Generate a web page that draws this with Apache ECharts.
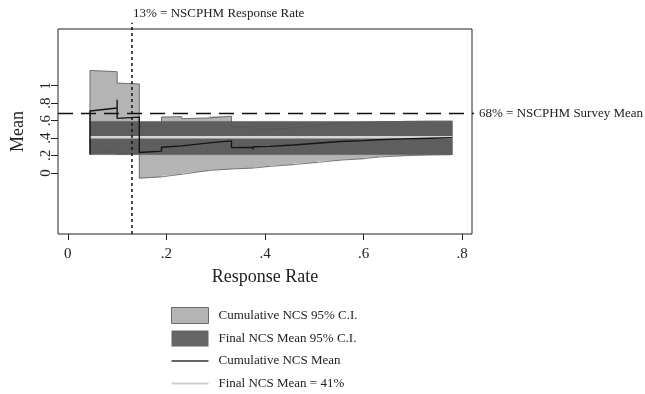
<!DOCTYPE html>
<html>
<head>
<meta charset="utf-8">
<script src="https://cdn.jsdelivr.net/npm/echarts@6/dist/echarts.min.js"></script>
<style>
html,body{margin:0;padding:0;background:#fff;}
#chart{width:645px;height:394px;}
</style>
</head>
<body>
<div id="chart"></div>
<script>
// ---- data ----
const rateBreaks = [0.045, 0.100, 0.145, 0.190, 0.231, 0.287, 0.332, 0.376, 0.410, 0.457, 0.505, 0.552, 0.600, 0.630, 0.681, 0.735, 0.780];
const cumUpperStart = [1.175, 1.030, 0.530, 0.640, 0.622, 0.645, 0.525, 0.490, 0.505, 0.525, 0.560, 0.578, 0.582, 0.588, 0.592, 0.594];
const cumUpperEnd   = [1.160, 1.020, 0.545, 0.645, 0.630, 0.650, 0.525, 0.500, 0.515, 0.545, 0.572, 0.580, 0.585, 0.590, 0.594, 0.594];
const cumLowerStart = [0.215, 0.215, -0.060, -0.030, 0.000, 0.035, 0.050, 0.068, 0.088, 0.112, 0.138, 0.155, 0.176, 0.192, 0.203, 0.208];
const cumLowerEnd   = [0.285, 0.220, -0.045, -0.015, 0.028, 0.045, 0.056, 0.075, 0.095, 0.120, 0.146, 0.163, 0.182, 0.197, 0.207, 0.210];
const cumMean = [
  [0.045,0.21],[0.045,0.71],[0.100,0.745],[0.100,0.84],[0.100,0.625],[0.145,0.64],
  [0.145,0.235],[0.190,0.25],[0.190,0.295],[0.231,0.31],[0.231,0.32],[0.287,0.345],
  [0.287,0.35],[0.332,0.368],[0.332,0.29],[0.376,0.295],[0.376,0.265],[0.376,0.30],
  [0.410,0.305],[0.410,0.31],[0.457,0.32],[0.457,0.325],[0.505,0.34],[0.505,0.345],
  [0.552,0.36],[0.552,0.362],[0.600,0.37],[0.600,0.375],[0.630,0.38],[0.630,0.385],
  [0.681,0.39],[0.681,0.393],[0.735,0.398],[0.735,0.40],[0.780,0.405]
];
const finalRange = [0.045, 0.780];
const finalMean = 0.41;
const finalCILow = 0.21;
const finalCIHigh = 0.59;
const surveyMean = 0.68;
const surveyRate = 0.13;
const xTickValues = [0, 0.2, 0.4, 0.6, 0.8];
const xTickLabels = ['0', '.2', '.4', '.6', '.8'];
const yTickValues = [0, 0.2, 0.4, 0.6, 0.8, 1];
const yTickLabels = ['0', '.2', '.4', '.6', '.8', '1'];
const legendNames = ['Cumulative NCS 95% C.I.', 'Final NCS Mean 95% C.I.', 'Cumulative NCS Mean', 'Final NCS Mean = 41%'];
const surveyMeanLabel = '68% = NSCPHM Survey Mean';
const surveyRateLabel = '13% = NSCPHM Response Rate';

// ---- build series data ----
function segPoints(starts, ends) {
  const pts = [];
  for (let i = 0; i < starts.length; i++) {
    pts.push([rateBreaks[i], starts[i]]);
    pts.push([rateBreaks[i + 1], ends[i]]);
  }
  return pts;
}
const upperPts = segPoints(cumUpperStart, cumUpperEnd);
const lowerPts = segPoints(cumLowerStart, cumLowerEnd);
const upperOutline = [[rateBreaks[0], cumLowerStart[0]]].concat(upperPts);
const cumSegments = cumUpperStart.map((u, i) =>
  [rateBreaks[i], rateBreaks[i + 1], cumLowerStart[i], u, cumLowerEnd[i], cumUpperEnd[i]]);
const finalSegments = [[finalRange[0], finalRange[1], finalCILow, finalCIHigh, finalCILow, finalCIHigh]];

const X_MIN = -0.02, X_MAX = 0.82, Y_MIN = -0.7, Y_MAX = 1.65;
const FONT = 'Liberation Serif';

function bandRenderer(color) {
  return function (params, api) {
    const x0 = api.value(0), x1 = api.value(1);
    const pts = [
      api.coord([x0, api.value(2)]), api.coord([x0, api.value(3)]),
      api.coord([x1, api.value(5)]), api.coord([x1, api.value(4)])
    ];
    return {type: 'polygon', shape: {points: pts}, style: {fill: color, stroke: color, lineWidth: 0.6}};
  };
}
// thin horizontal bar icon whose bounding box spans the full 37x16 key
function lineIcon(th) {
  const a = (8 - th / 2).toFixed(2), b = (8 + th / 2).toFixed(2);
  return 'path://M0,0L0.01,0L0,0.01Z M0,' + a + 'H37V' + b + 'H0Z M37,16L36.99,16L37,15.99Z';
}

const chart = echarts.init(document.getElementById('chart'), null, {renderer: 'canvas'});
const noSym = {showSymbol: false, symbol: 'none'};

chart.setOption({
  animation: false,
  backgroundColor: '#fff',
  title: [{
    text: surveyRateLabel,
    left: 133, top: 7, padding: 0,
    textStyle: {fontFamily: FONT, fontSize: 13, fontWeight: 'normal', color: '#222'}
  }],
  grid: {left: 58, right: 173, top: 29, bottom: 160, show: true, borderColor: '#222', borderWidth: 1, backgroundColor: 'transparent'},
  xAxis: {
    type: 'value', min: X_MIN, max: X_MAX,
    name: 'Response Rate', nameLocation: 'middle', nameGap: 34,
    nameTextStyle: {fontFamily: FONT, fontSize: 18, color: '#222'},
    axisLine: {show: false, onZero: false},
    axisTick: {show: true, length: 6, customValues: xTickValues, lineStyle: {color: '#222', width: 1}},
    axisLabel: {customValues: xTickValues, margin: 13, fontFamily: FONT, fontSize: 15, color: '#222',
      formatter: v => xTickLabels[xTickValues.findIndex(t => Math.abs(t - v) < 1e-9)]},
    splitLine: {show: false}
  },
  yAxis: {
    type: 'value', min: Y_MIN, max: Y_MAX,
    name: 'Mean', nameLocation: 'middle', nameGap: 31, nameRotate: 90,
    nameTextStyle: {fontFamily: FONT, fontSize: 18, color: '#222'},
    axisLine: {show: false, onZero: false},
    axisTick: {show: true, length: 7, customValues: yTickValues, lineStyle: {color: '#222', width: 1}},
    axisLabel: {customValues: yTickValues, rotate: 90, margin: 4, fontFamily: FONT, fontSize: 15, color: '#222',
      formatter: v => yTickLabels[yTickValues.findIndex(t => Math.abs(t - v) < 1e-9)]},
    splitLine: {show: false}
  },
  legend: {
    orient: 'vertical', left: 171, top: 307, padding: 0,
    itemWidth: 37, itemHeight: 16, itemGap: 6.5,
    selectedMode: false,
    textStyle: {fontFamily: FONT, fontSize: 13, color: '#222', padding: [0, 0, 0, 5]},
    data: [
      {name: legendNames[0], icon: 'rect', itemStyle: {color: '#b4b4b4', borderColor: '#6a6a6a', borderWidth: 1}},
      {name: legendNames[1], icon: 'rect', itemStyle: {color: '#666666', borderWidth: 0}},
      {name: legendNames[2], icon: lineIcon(1.6), itemStyle: {color: '#333', borderWidth: 0}},
      {name: legendNames[3], icon: lineIcon(2.2), itemStyle: {color: '#cfcfcf', borderWidth: 0}}
    ]
  },
  series: [
    {name: legendNames[0], type: 'custom', data: cumSegments, renderItem: bandRenderer('#b4b4b4'),
      encode: {x: [0, 1], y: [2, 3, 4, 5]}, color: '#b4b4b4', z: 1, silent: true},
    {name: legendNames[1], type: 'custom', data: finalSegments, renderItem: bandRenderer('#5e5e5e'),
      encode: {x: [0, 1], y: [2, 3, 4, 5]}, color: '#5e5e5e', z: 2, silent: true},
    {name: 'cumUpperOutline', type: 'line', data: upperOutline, ...noSym,
      lineStyle: {color: '#555', width: 1, opacity: 0.75}, z: 3},
    {name: 'cumLowerOutline', type: 'line', data: lowerPts, ...noSym,
      lineStyle: {color: '#555', width: 1, opacity: 0.75}, z: 3},
    {name: legendNames[3], type: 'line', data: [[finalRange[0], finalMean], [finalRange[1], finalMean]], ...noSym,
      color: '#cfcfcf', lineStyle: {color: '#d4d4d4', width: 2.5}, z: 4},
    {name: legendNames[2], type: 'line', data: cumMean, ...noSym,
      color: '#222', lineStyle: {color: '#151515', width: 1.4}, z: 5},
    {name: 'surveyMeanLine', type: 'line', clip: false, data: [[X_MIN, surveyMean], [0.827, surveyMean]], ...noSym,
      lineStyle: {color: '#111', width: 1.5, type: [15, 8]}, z: 6,
      endLabel: {show: true, formatter: surveyMeanLabel, distance: 5, fontFamily: FONT, fontSize: 13, color: '#222'}},
    {name: 'surveyRateLine', type: 'line', clip: false, data: [[surveyRate, Y_MIN], [surveyRate, 1.722]], ...noSym,
      lineStyle: {color: '#111', width: 1.5, type: [3, 3]}, z: 6}
  ]
});
</script>
</body>
</html>
